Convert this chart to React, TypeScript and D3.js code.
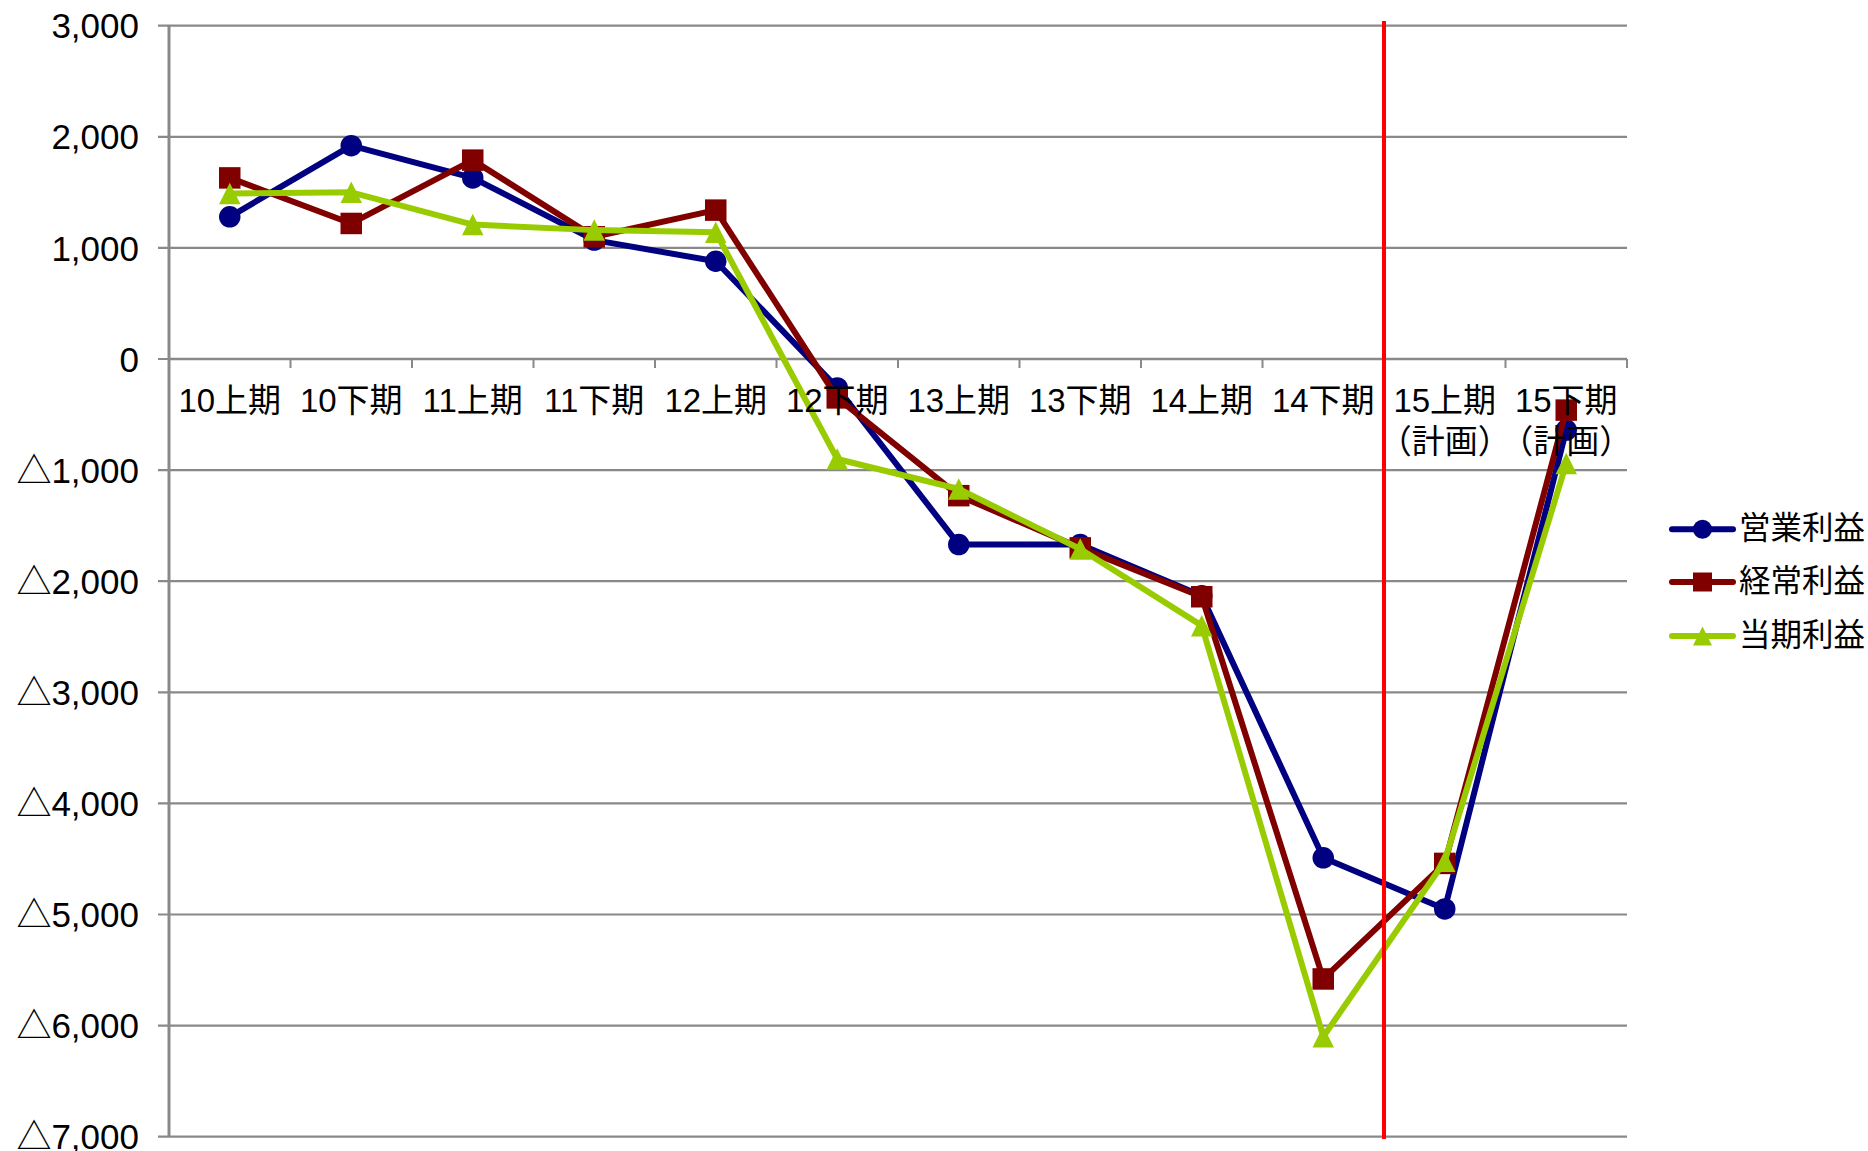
import React from 'react';
import * as d3 from 'd3';

// Half-year periods; the last two are plan figures
const categories = [
  '10上期', '10下期', '11上期', '11下期', '12上期', '12下期',
  '13上期', '13下期', '14上期', '14下期', '15上期\n（計画）', '15下期\n（計画）',
];

// Profit figures per period (negative values shown with △)
const operatingProfit = [1280, 1920, 1630, 1070, 880, -260, -1670, -1670, -2130, -4490, -4950, -640];
const ordinaryProfit = [1630, 1220, 1790, 1100, 1340, -350, -1230, -1700, -2140, -5580, -4540, -460];
const netProfit = [1490, 1500, 1210, 1160, 1140, -900, -1170, -1710, -2400, -6100, -4520, -940];

const seriesNames = ['営業利益', '経常利益', '当期利益'];
const seriesValues = [operatingProfit, ordinaryProfit, netProfit];
const seriesColors = ['#000080', '#800000', '#99CC00'];
const seriesMarkers = ['circle', 'square', 'triangle'];

const yTicks = [3000, 2000, 1000, 0, -1000, -2000, -3000, -4000, -5000, -6000, -7000];
const yDomain = [-7000, 3000];

// Index of the first plan period; a divider is drawn at its left edge
const planStartIndex = 10;

const W = 1868;
const H = 1151;
const plot = { left: 169, right: 1627, top: 25.7, bottom: 1136.7 };
const FONT = "'Liberation Sans', 'Noto Sans CJK JP', sans-serif";
const GRID = '#898989';

const fmt = d3.format(',');
const yLabel = (v: number) => (v < 0 ? '△' + fmt(-v) : fmt(v));

function markerPath(shape: string, size: number) {
  const h = size / 2;
  if (shape === 'circle') {
    const p = d3.path();
    p.arc(0, 0, h, 0, Math.PI * 2);
    return p.toString();
  }
  if (shape === 'square') {
    return `M${-h},${-h}H${h}V${h}H${-h}Z`;
  }
  return `M0,${-h}L${h},${h}L${-h},${h}Z`;
}

export default function App() {
  const x = d3.scaleBand<string>().domain(categories).range([plot.left, plot.right]).padding(0);
  const y = d3.scaleLinear().domain(yDomain).range([plot.bottom, plot.top]);
  const cx = (c: string) => (x(c) as number) + x.bandwidth() / 2;

  const line = d3
    .line<number>()
    .x((_, i) => cx(categories[i]))
    .y((d) => y(d));

  const y0 = y(0);
  const boundaries = categories.map((c) => (x(c) as number) + x.bandwidth());
  const dividerX = x(categories[planStartIndex]) as number;

  const legendX0 = 1672;
  const legendX1 = 1733;
  const legendY = [529.3, 582, 636];

  return (
    <svg
      width={W}
      height={H}
      style={{ position: 'absolute', left: 0, top: 0, background: '#fff' }}
      fontFamily={FONT}
    >
      <rect x={0} y={0} width={W} height={H} fill="#fff" />

      {/* horizontal gridlines and y-axis ticks */}
      {yTicks.map((t) => (
        <g key={'g' + t}>
          <line x1={158} x2={plot.right} y1={y(t)} y2={y(t)} stroke={GRID} strokeWidth={2.2} />
          <text
            x={139}
            y={y(t)}
            dy="0.36em"
            textAnchor="end"
            fontSize={35}
            fill="#000"
          >
            {yLabel(t)}
          </text>
        </g>
      ))}

      {/* y axis */}
      <line x1={plot.left} x2={plot.left} y1={plot.top} y2={plot.bottom} stroke={GRID} strokeWidth={3} />

      {/* category axis at zero */}
      <line x1={plot.left} x2={plot.right} y1={y0} y2={y0} stroke={GRID} strokeWidth={2.5} />
      {boundaries.map((bx, i) => (
        <line key={'t' + i} x1={bx} x2={bx} y1={y0} y2={y0 + 9} stroke={GRID} strokeWidth={2} />
      ))}

      {/* series */}
      {seriesValues.map((vals, si) => (
        <g key={'s' + si}>
          <path
            d={line(vals) || ''}
            fill="none"
            stroke={seriesColors[si]}
            strokeWidth={6}
            strokeLinejoin="round"
          />
          {vals.map((v, i) => (
            <path
              key={'m' + i}
              d={markerPath(seriesMarkers[si], 21.5)}
              transform={`translate(${cx(categories[i])},${y(v)})`}
              fill={seriesColors[si]}
            />
          ))}
        </g>
      ))}

      {/* category labels */}
      {categories.map((c) => {
        const lines = c.split('\n');
        return (
          <text key={'c' + c} x={cx(c)} y={412} textAnchor="middle" fontSize={33} fill="#000">
            {lines.map((ln, li) => (
              <tspan key={li} x={cx(c)} dy={li === 0 ? 0 : 41}>
                {ln}
              </tspan>
            ))}
          </text>
        );
      })}

      {/* divider between results and plan */}
      <line x1={dividerX} x2={dividerX} y1={21} y2={1139} stroke="#FF0000" strokeWidth={4} />

      {/* legend */}
      {seriesNames.map((name, si) => (
        <g key={'l' + si}>
          <line
            x1={legendX0}
            x2={legendX1}
            y1={legendY[si]}
            y2={legendY[si]}
            stroke={seriesColors[si]}
            strokeWidth={6}
            strokeLinecap="round"
          />
          <path
            d={markerPath(seriesMarkers[si], 19)}
            transform={`translate(${(legendX0 + legendX1) / 2},${legendY[si]})`}
            fill={seriesColors[si]}
          />
          <text x={1739} y={legendY[si] + 10} fontSize={31.5} fill="#000">
            {name}
          </text>
        </g>
      ))}
    </svg>
  );
}
